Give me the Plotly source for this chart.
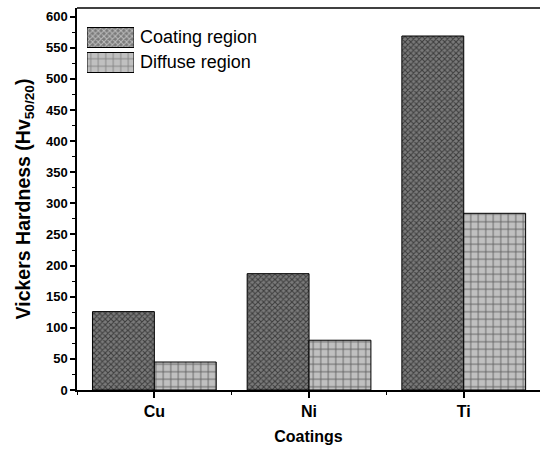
import plotly.graph_objects as go

categories = ["Cu", "Ni", "Ti"]
coating_region = [126, 187, 569]
diffuse_region = [45, 80, 284]
series_names = ["Coating region", "Diffuse region"]
y_ticks = [0, 50, 100, 150, 200, 250, 300, 350, 400, 450, 500, 550, 600]

FONT = "Arial, Liberation Sans, sans-serif"
x_pos = list(range(len(categories)))

coat_style = dict(color="#7a7a7a", line=dict(color="black", width=1),
                  pattern=dict(shape="x", fgcolor="black", bgcolor="#7a7a7a",
                               size=4, solidity=0.45))
diff_style = dict(color="#c0c0c0", line=dict(color="black", width=1),
                  pattern=dict(shape="+", fgcolor="black", bgcolor="#c0c0c0",
                               size=7.5, solidity=0.22))

fig = go.Figure()
fig.add_trace(go.Bar(x=x_pos, y=coating_region, name=series_names[0],
                     marker=coat_style, showlegend=False))
fig.add_trace(go.Bar(x=x_pos, y=diffuse_region, name=series_names[1],
                     marker=diff_style, showlegend=False))

# custom legend patches (decoration) on a hidden small subplot
fig.add_trace(go.Bar(
    y=[0, 1], x=[1, 1], orientation="h", xaxis="x2", yaxis="y2",
    showlegend=False, hoverinfo="skip",
    marker=dict(color=["#c0c0c0", "#7a7a7a"], line=dict(color="black", width=1),
                pattern=dict(shape=["+", "x"], fgcolor="black",
                             bgcolor=["#c0c0c0", "#7a7a7a"],
                             size=[7.5, 4], solidity=[0.22, 0.45]))))

W, H = 540, 450
L, T, B = 77, 8, 60
pw, ph = W - L, H - T - B

def px_x(x):
    return (x - L) / pw

def px_y(y):
    return (H - B - y) / ph

fig.update_layout(
    width=W, height=H,
    margin=dict(l=L, r=0, t=T, b=B),
    paper_bgcolor="white", plot_bgcolor="white",
    barmode="group", bargap=0.2, bargroupgap=0,
    font=dict(family=FONT, color="black"),
    xaxis=dict(
        range=[-0.5, 2.493], tickvals=x_pos, ticktext=categories,
        showgrid=False, zeroline=False, showline=True, linecolor="black", linewidth=1.5,
        ticks="outside", ticklen=6, tickwidth=1.5, tickcolor="black",
        tickfont=dict(family=FONT, size=16, color="black", weight="bold"),
        minor=dict(tickvals=[-0.5, 0.5, 1.5], ticks="outside", ticklen=3,
                   tickwidth=1, tickcolor="black"),
        title=dict(text="Coatings", font=dict(family=FONT, size=16, weight="bold"),
                   standoff=12),
    ),
    yaxis=dict(
        range=[0, 614], tickvals=y_ticks,
        showgrid=False, zeroline=False, showline=True, linecolor="black", linewidth=1.5,
        ticks="outside", ticklen=5, tickwidth=1.5, tickcolor="black",
        tickfont=dict(family=FONT, size=13, color="black", weight="bold"),
        minor=dict(dtick=25, ticks="outside", ticklen=3, tickwidth=1, tickcolor="black"),
        title=dict(text="Vickers Hardness (Hv<sub>50/20</sub>)",
                   font=dict(family=FONT, size=19.5, weight="bold"), standoff=10),
    ),
    xaxis2=dict(domain=[px_x(87), px_x(134)], range=[0, 1], visible=False,
                anchor="y2", fixedrange=True),
    yaxis2=dict(domain=[px_y(75), px_y(25)], range=[-0.5, 1.5], visible=False,
                anchor="x2", fixedrange=True),
    shapes=[dict(type="line", xref="paper", yref="paper", x0=0, x1=1.05, y0=1, y1=1,
                 line=dict(color="black", width=1.5))],
    annotations=[
        dict(text=series_names[0], xref="paper", yref="paper", x=px_x(138), y=px_y(37),
             xanchor="left", yanchor="middle", showarrow=False,
             font=dict(family=FONT, size=18, color="black")),
        dict(text=series_names[1], xref="paper", yref="paper", x=px_x(138), y=px_y(62),
             xanchor="left", yanchor="middle", showarrow=False,
             font=dict(family=FONT, size=18, color="black")),
    ],
)

fig.write_html("out.html", config={"displayModeBar": False},
               post_script="document.body.style.margin='0';document.body.style.overflow='hidden';")
